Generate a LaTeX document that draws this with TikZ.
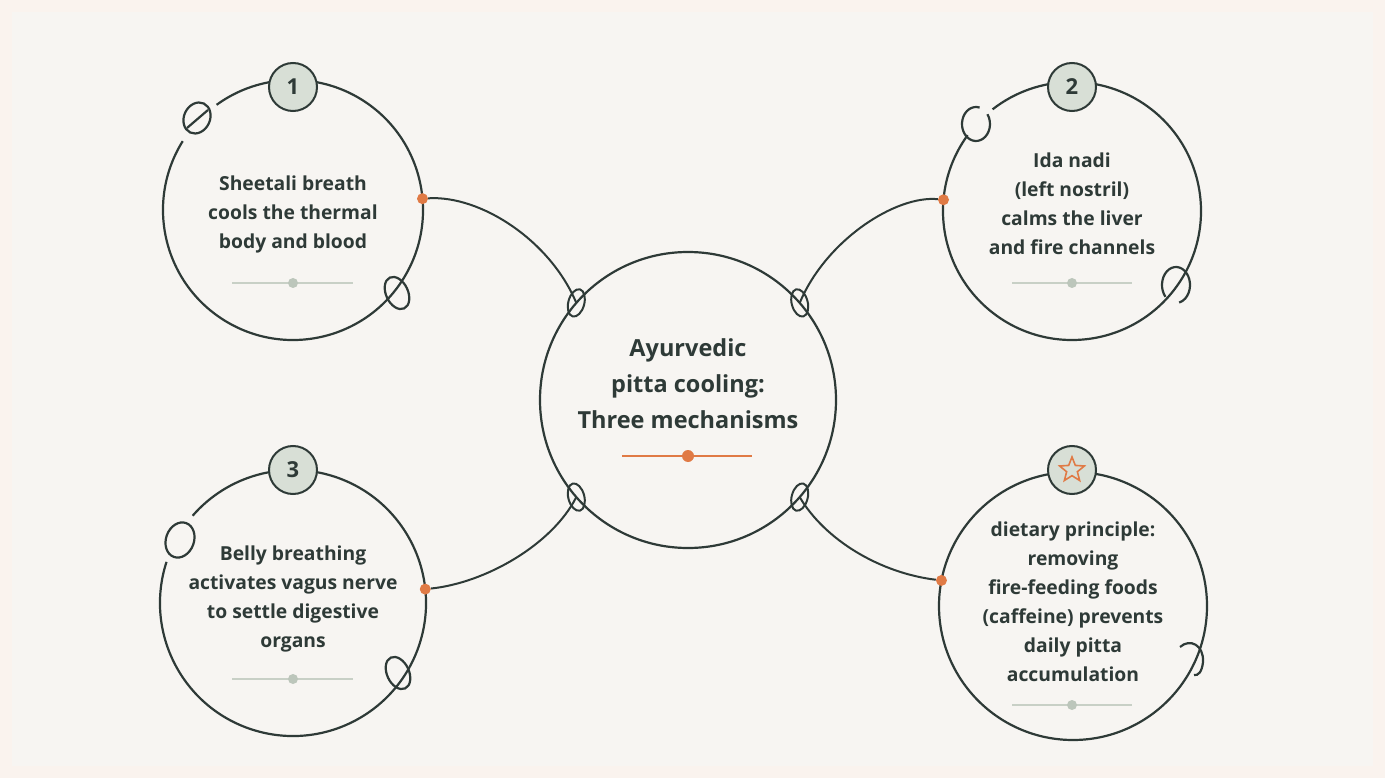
\documentclass[tikz,border=0pt]{standalone}
\usepackage{fontspec}
\setmainfont{Open Sans}
\usetikzlibrary{shapes.geometric}
\definecolor{ink}{HTML}{2E3A37}
\definecolor{accent}{HTML}{E07A45}
\definecolor{sage}{HTML}{D8DFD6}
\definecolor{divc}{HTML}{C8D0C6}
\definecolor{divdot}{HTML}{BCC6BB}
\definecolor{bgout}{HTML}{FAF3EE}
\definecolor{bgin}{HTML}{F7F5F2}
\tikzset{
  ring/.style={circle, inner sep=0pt, outer sep=0pt, draw=none},
  outline/.style={draw=ink, line width=2.2pt},
  conn/.style={draw=ink, line width=2pt},
  badge/.style={circle, draw=ink, line width=2pt, fill=sage, minimum size=48pt, inner sep=0pt, text=ink, font=\fontsize{22}{22}\selectfont\bfseries},
  body/.style={align=center, text=ink, font=\fontsize{19.3}{29}\selectfont\bfseries, inner sep=0pt},
  odot/.style={circle, fill=accent, minimum size=11pt, inner sep=0pt},
  divider/.style={draw=divc, line width=2.5pt},
  knob/.style={circle, fill=divdot, minimum size=10pt, inner sep=0pt},
}
\begin{document}
\begin{tikzpicture}[x=1pt,y=1pt]
\useasboundingbox (0,0) rectangle (1385,-778);
\fill[bgout] (0,0) rectangle (1385,-778);
\fill[bgin] (12,-12) rectangle (1373,-766);

% ring nodes
\node[ring, minimum size=296pt] (cc) at (688,-400) {};
\node[ring, minimum size=260pt] (c1) at (293,-210) {};
\node[ring, minimum size=258pt] (c2) at (1072,-211) {};
\node[ring, minimum size=266pt] (c3) at (293,-603) {};
\node[ring, minimum size=268pt] (c4) at (1073,-606) {};

% outlines
\draw[outline] (cc.center) circle[radius=148];
\draw[outline] (c1.148) arc[start angle=148, end angle=486, radius=130];
\draw[outline] (c2.144) arc[start angle=144, end angle=488, radius=129];
\draw[outline] (c3.162) arc[start angle=162, end angle=499, radius=133];
\draw[outline] (c4.center) circle[radius=134];

% decorative loops
\draw[outline, rotate around={-25:(197,-118)}] (197,-118) ellipse[x radius=13, y radius=16];
\draw[outline] (187,-128) -- (208,-110);
\draw[outline, rotate around={25:(397,-293)}] (397,-293) ellipse[x radius=11, y radius=17];
\draw[outline] (976,-124) ++(75:14 and 17) arc[start angle=75, end angle=395, x radius=14, y radius=17];
\draw[outline] (1176,-285) ++(221:14 and 18) arc[start angle=221, end angle=-77, x radius=14, y radius=18];
\draw[outline, rotate around={-20:(180,-540)}] (180,-540) ellipse[x radius=14, y radius=18];
\draw[outline, rotate around={25:(398,-673)}] (398,-673) ellipse[x radius=11, y radius=17];
\draw[outline] (1180,-647) .. controls (1190,-638) and (1204,-645) .. (1203,-662) .. controls (1202,-672) and (1198,-676) .. (1194,-675);

% orange dots
\node[odot] (d1) at (c1.5) {};
\node[odot] (d2) at (c2.175) {};
\node[odot] (d3) at (c3.6) {};
\node[odot] (d4) at (c4.169) {};

% connectors
\draw[conn] (d1) .. controls (480,-195) and (550,-240) .. (cc.139);
\draw[conn] (d2) .. controls (896,-195) and (826,-240) .. (cc.41);
\draw[conn] (d3) .. controls (485,-583) and (552,-545) .. (cc.221);
\draw[conn] (d4) .. controls (880,-573) and (825,-540) .. (cc.319);

% knots on the central circle
\draw[conn, rotate around={-15:(cc.139)}] (cc.139) ellipse[x radius=8, y radius=14];
\draw[conn, rotate around={15:(cc.41)}] (cc.41) ellipse[x radius=8, y radius=14];
\draw[conn, rotate around={15:(cc.221)}] (cc.221) ellipse[x radius=8, y radius=14];
\draw[conn, rotate around={-15:(cc.319)}] (cc.319) ellipse[x radius=8, y radius=14];

% badges
\node[badge] (b1) at (293,-87) {1};
\node[badge] (b2) at (1072,-87) {2};
\node[badge] (b3) at (293,-470) {3};
\node[badge] (b4) at (1072,-470) {};
\node[star, star points=5, star point ratio=2.3, draw=accent, line width=1.6pt, minimum size=26pt, inner sep=0pt] (st) at (b4.center) {};

% texts
\node[body, font=\fontsize{23.5}{36}\selectfont\bfseries] (ct) at (688,-384) {Ayurvedic\\pitta cooling:\\Three mechanisms};
\node[body] (t1) at (293,-214) {Sheetali breath\\cools the thermal\\body and blood};
\node[body] (t2) at (1072,-204) {Ida nadi\\(left nostril)\\calms the liver\\and fire channels};
\node[body] (t3) at (293,-599) {Belly breathing\\activates vagus nerve\\to settle digestive\\organs};
\node[body] (t4) at (1073,-602) {dietary principle:\\removing\\fire-feeding foods\\(caffeine) prevents\\daily pitta\\accumulation};

% dividers
\draw[draw=accent, line width=2.5pt] (622,-456) -- (752,-456);
\node[circle, fill=accent, minimum size=12pt, inner sep=0pt] (cd) at (688,-456) {};
\draw[divider] (232,-283) -- (353,-283);
\node[knob] (k1) at (293,-283) {};
\draw[divider] (1012,-283) -- (1132,-283);
\node[knob] (k2) at (1072,-283) {};
\draw[divider] (232,-679) -- (353,-679);
\node[knob] (k3) at (293,-679) {};
\draw[divider] (1012,-705) -- (1132,-705);
\node[knob] (k4) at (1072,-705) {};
\end{tikzpicture}
\end{document}
